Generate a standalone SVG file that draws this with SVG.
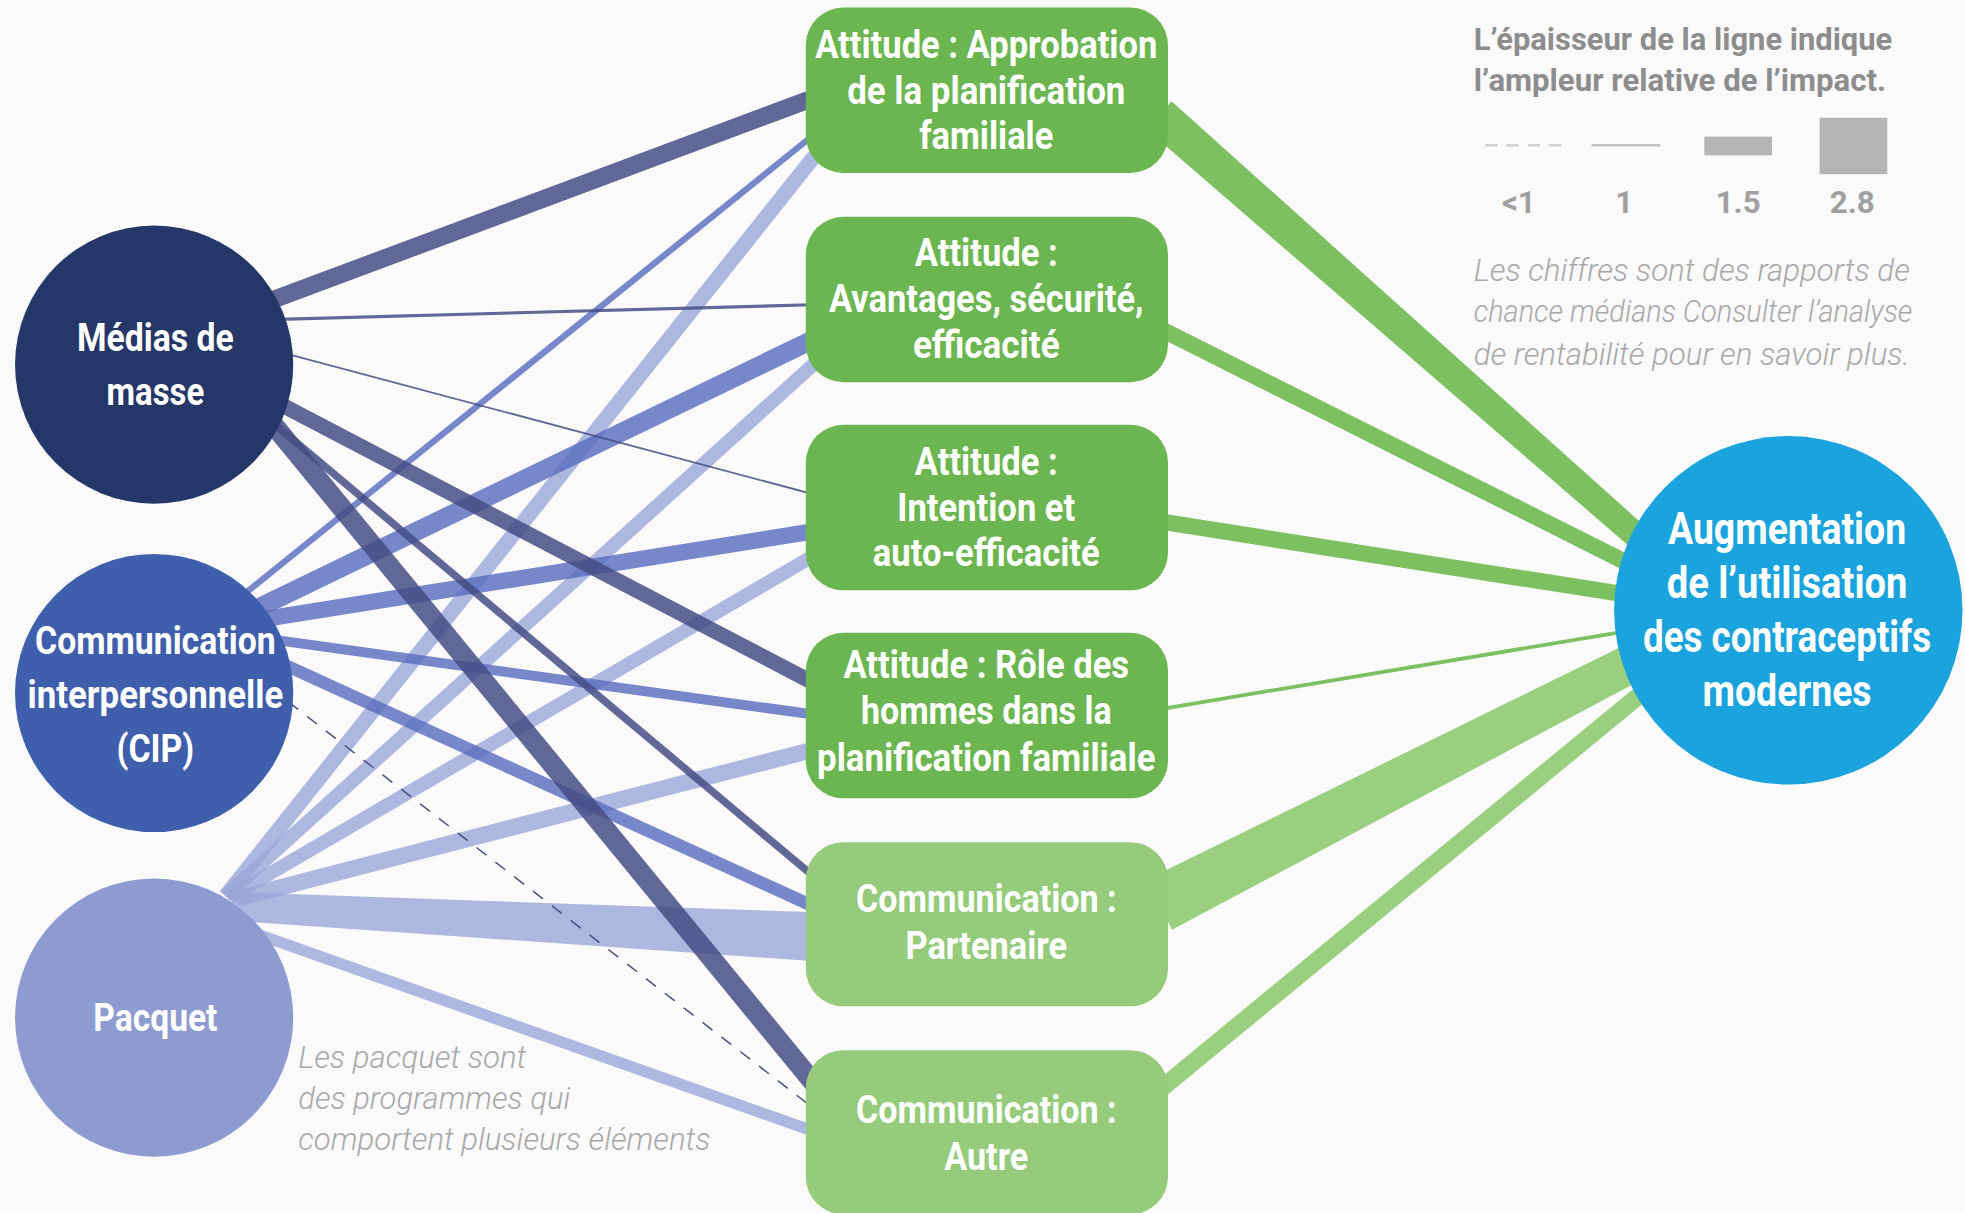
<svg xmlns="http://www.w3.org/2000/svg" width="1965" height="1213" viewBox="0 0 1965 1213">
<style>
.nt{font-family:Roboto,"Liberation Sans",sans-serif;font-weight:700;fill:#ffffff;text-anchor:middle;font-size:31px}
.big{font-size:35px}
.lg{font-family:Roboto,"Liberation Sans",sans-serif;font-weight:700;fill:#8d8d8d;font-size:25px}
.ln{font-family:Roboto,"Liberation Sans",sans-serif;font-weight:700;fill:#a0a0a0;font-size:25px;text-anchor:middle}
.it{font-family:Roboto,"Liberation Sans",sans-serif;font-weight:300;font-style:italic;fill:#a8a8a8;font-size:25px}
.m{stroke:#454c85;stroke-opacity:0.85;fill:none}
.c{stroke:#5b6ec0;stroke-opacity:0.82;fill:none}
.p{stroke:#9ba6d8;stroke-opacity:0.8;fill:none}
.g{stroke:#7cc062;fill:none}
.gl{stroke:#9acf80;fill:none}
.b1{fill:#6bb650}
.b2{fill:#95cb7b}
</style>
<rect x="0" y="0" width="1965" height="1213" fill="#fafafa"/>
<g transform="scale(1.25319)">
<g id="connectors">
<line class="p" x1="180" y1="715" x2="652" y2="122" stroke-width="12"/>
<line class="p" x1="180" y1="715" x2="650" y2="290" stroke-width="11"/>
<line class="p" x1="183" y1="716" x2="650" y2="443" stroke-width="11"/>
<line class="p" x1="185" y1="718" x2="650" y2="598" stroke-width="13"/>
<polygon points="190,712 650,728 650,767 190,735" fill="#9ba6d8" fill-opacity="0.8"/>
<line class="p" x1="190" y1="740" x2="650" y2="903" stroke-width="9"/>
<line class="c" x1="190" y1="478" x2="655" y2="103" stroke-width="5"/>
<line class="c" x1="200" y1="488" x2="655" y2="268" stroke-width="15"/>
<line class="c" x1="205" y1="495" x2="655" y2="423" stroke-width="13"/>
<line class="c" x1="215" y1="510" x2="655" y2="571" stroke-width="8"/>
<line class="c" x1="215" y1="525" x2="655" y2="726" stroke-width="10"/>
<line x1="230" y1="560" x2="650" y2="885" stroke="#4a5080" stroke-width="1.2" stroke-dasharray="10 9"/>
<line class="m" x1="205" y1="244" x2="655" y2="76" stroke-width="14"/>
<line class="m" x1="215" y1="255" x2="655" y2="243" stroke-width="2.5"/>
<line class="m" x1="220" y1="280" x2="655" y2="396" stroke-width="1.5"/>
<line class="m" x1="215" y1="318" x2="655" y2="548" stroke-width="12"/>
<line class="m" x1="215" y1="335" x2="650" y2="700" stroke-width="6"/>
<line class="m" x1="215" y1="335" x2="650" y2="865" stroke-width="16"/>
<polygon points="934.9,80.8 1326.6,432.5 1313.4,447.5 915.1,103.3" fill="#7cc062"/>
<line class="g" x1="925" y1="262" x2="1320" y2="460" stroke-width="13"/>
<line class="g" x1="925" y1="416" x2="1320" y2="478" stroke-width="13"/>
<line class="g" x1="925" y1="566" x2="1320" y2="500" stroke-width="3"/>
<polygon points="935.2,742 1326.8,533.4 1313.2,506.6 914.8,702" fill="#9acf80"/>
<line class="gl" x1="925" y1="870" x2="1320" y2="545" stroke-width="14"/>
</g>
<g id="medias">
<circle cx="123" cy="291" r="111" fill="#253768"/>
<text class="nt" x="124" y="280" textLength="125" lengthAdjust="spacingAndGlyphs">Médias de</text>
<text class="nt" x="124" y="323" textLength="78" lengthAdjust="spacingAndGlyphs">masse</text>
</g>
<g id="cip">
<circle cx="123" cy="553" r="111" fill="#3f5eab"/>
<text class="nt" x="124" y="522" textLength="192" lengthAdjust="spacingAndGlyphs">Communication</text>
<text class="nt" x="124" y="565" textLength="204" lengthAdjust="spacingAndGlyphs">interpersonnelle</text>
<text class="nt" x="124" y="608" textLength="62" lengthAdjust="spacingAndGlyphs">(CIP)</text>
</g>
<g id="pacquet">
<circle cx="123" cy="812" r="111" fill="#8e9bd0"/>
<text class="nt" x="124" y="823" textLength="99" lengthAdjust="spacingAndGlyphs">Pacquet</text>
</g>
<g id="box1">
<rect class="b1" x="643" y="6" width="289" height="132" rx="30"/>
<text class="nt" x="787" y="46" textLength="273" lengthAdjust="spacingAndGlyphs">Attitude : Approbation</text>
<text class="nt" x="787" y="83" textLength="222" lengthAdjust="spacingAndGlyphs">de la planification</text>
<text class="nt" x="787" y="119" textLength="107" lengthAdjust="spacingAndGlyphs">familiale</text>
</g>
<g id="box2">
<rect class="b1" x="643" y="173" width="289" height="132" rx="30"/>
<text class="nt" x="787" y="212" textLength="114" lengthAdjust="spacingAndGlyphs">Attitude :</text>
<text class="nt" x="787" y="249" textLength="251" lengthAdjust="spacingAndGlyphs">Avantages, sécurité,</text>
<text class="nt" x="787" y="286" textLength="117" lengthAdjust="spacingAndGlyphs">efficacité</text>
</g>
<g id="box3">
<rect class="b1" x="643" y="339" width="289" height="132" rx="30"/>
<text class="nt" x="787" y="379" textLength="114" lengthAdjust="spacingAndGlyphs">Attitude :</text>
<text class="nt" x="787" y="416" textLength="142" lengthAdjust="spacingAndGlyphs">Intention et</text>
<text class="nt" x="787" y="452" textLength="181" lengthAdjust="spacingAndGlyphs">auto-efficacité</text>
</g>
<g id="box4">
<rect class="b1" x="643" y="505" width="289" height="132" rx="30"/>
<text class="nt" x="787" y="541" textLength="228" lengthAdjust="spacingAndGlyphs">Attitude : Rôle des</text>
<text class="nt" x="787" y="578" textLength="200" lengthAdjust="spacingAndGlyphs">hommes dans la</text>
<text class="nt" x="787" y="615" textLength="270" lengthAdjust="spacingAndGlyphs">planification familiale</text>
</g>
<g id="box5">
<rect class="b2" x="643" y="672" width="289" height="131" rx="30"/>
<text class="nt" x="787" y="728" textLength="208" lengthAdjust="spacingAndGlyphs" fill="#f3f8ef">Communication :</text>
<text class="nt" x="787" y="765" textLength="129" lengthAdjust="spacingAndGlyphs" fill="#f3f8ef">Partenaire</text>
</g>
<g id="box6">
<rect class="b2" x="643" y="838" width="289" height="131" rx="30"/>
<text class="nt" x="787" y="896" textLength="208" lengthAdjust="spacingAndGlyphs" fill="#f3f8ef">Communication :</text>
<text class="nt" x="787" y="934" textLength="67" lengthAdjust="spacingAndGlyphs" fill="#f3f8ef">Autre</text>
</g>
<g id="outcome">
<circle cx="1427" cy="487" r="139" fill="#1aa3dd"/>
<text class="nt big" x="1426" y="434" textLength="190" lengthAdjust="spacingAndGlyphs">Augmentation</text>
<text class="nt big" x="1426" y="477" textLength="192" lengthAdjust="spacingAndGlyphs">de l’utilisation</text>
<text class="nt big" x="1426" y="520" textLength="230" lengthAdjust="spacingAndGlyphs">des contraceptifs</text>
<text class="nt big" x="1426" y="563" textLength="135" lengthAdjust="spacingAndGlyphs">modernes</text>
</g>
<g id="legend">
<text class="lg" x="1176" y="40" textLength="334" lengthAdjust="spacingAndGlyphs">L’épaisseur de la ligne indique</text>
<text class="lg" x="1176" y="73" textLength="329" lengthAdjust="spacingAndGlyphs">l’ampleur relative de l’impact.</text>
<line x1="1185" y1="116" x2="1248" y2="116" stroke="#d2d2d2" stroke-width="2" stroke-dasharray="10 7"/>
<line x1="1270" y1="116" x2="1325" y2="116" stroke="#c4c4c4" stroke-width="2"/>
<rect x="1360" y="109" width="54" height="15" fill="#b5b5b5"/>
<rect x="1452" y="94" width="54" height="45" fill="#b5b5b5"/>
<text class="ln" x="1212" y="170">&lt;1</text>
<text class="ln" x="1296" y="170">1</text>
<text class="ln" x="1387" y="170">1.5</text>
<text class="ln" x="1478" y="170">2.8</text>
<text class="it" x="1176" y="224" textLength="348" lengthAdjust="spacingAndGlyphs">Les chiffres sont des rapports de</text>
<text class="it" x="1176" y="257" textLength="350" lengthAdjust="spacingAndGlyphs">chance médians Consulter l’analyse</text>
<text class="it" x="1176" y="291" textLength="348" lengthAdjust="spacingAndGlyphs">de rentabilité pour en savoir plus.</text>
</g>
<g id="note">
<text class="it" x="238" y="852" textLength="182" lengthAdjust="spacingAndGlyphs">Les pacquet sont</text>
<text class="it" x="238" y="885" textLength="217" lengthAdjust="spacingAndGlyphs">des programmes qui</text>
<text class="it" x="238" y="918" textLength="329" lengthAdjust="spacingAndGlyphs">comportent plusieurs éléments</text>
</g>
</g>
</svg>
